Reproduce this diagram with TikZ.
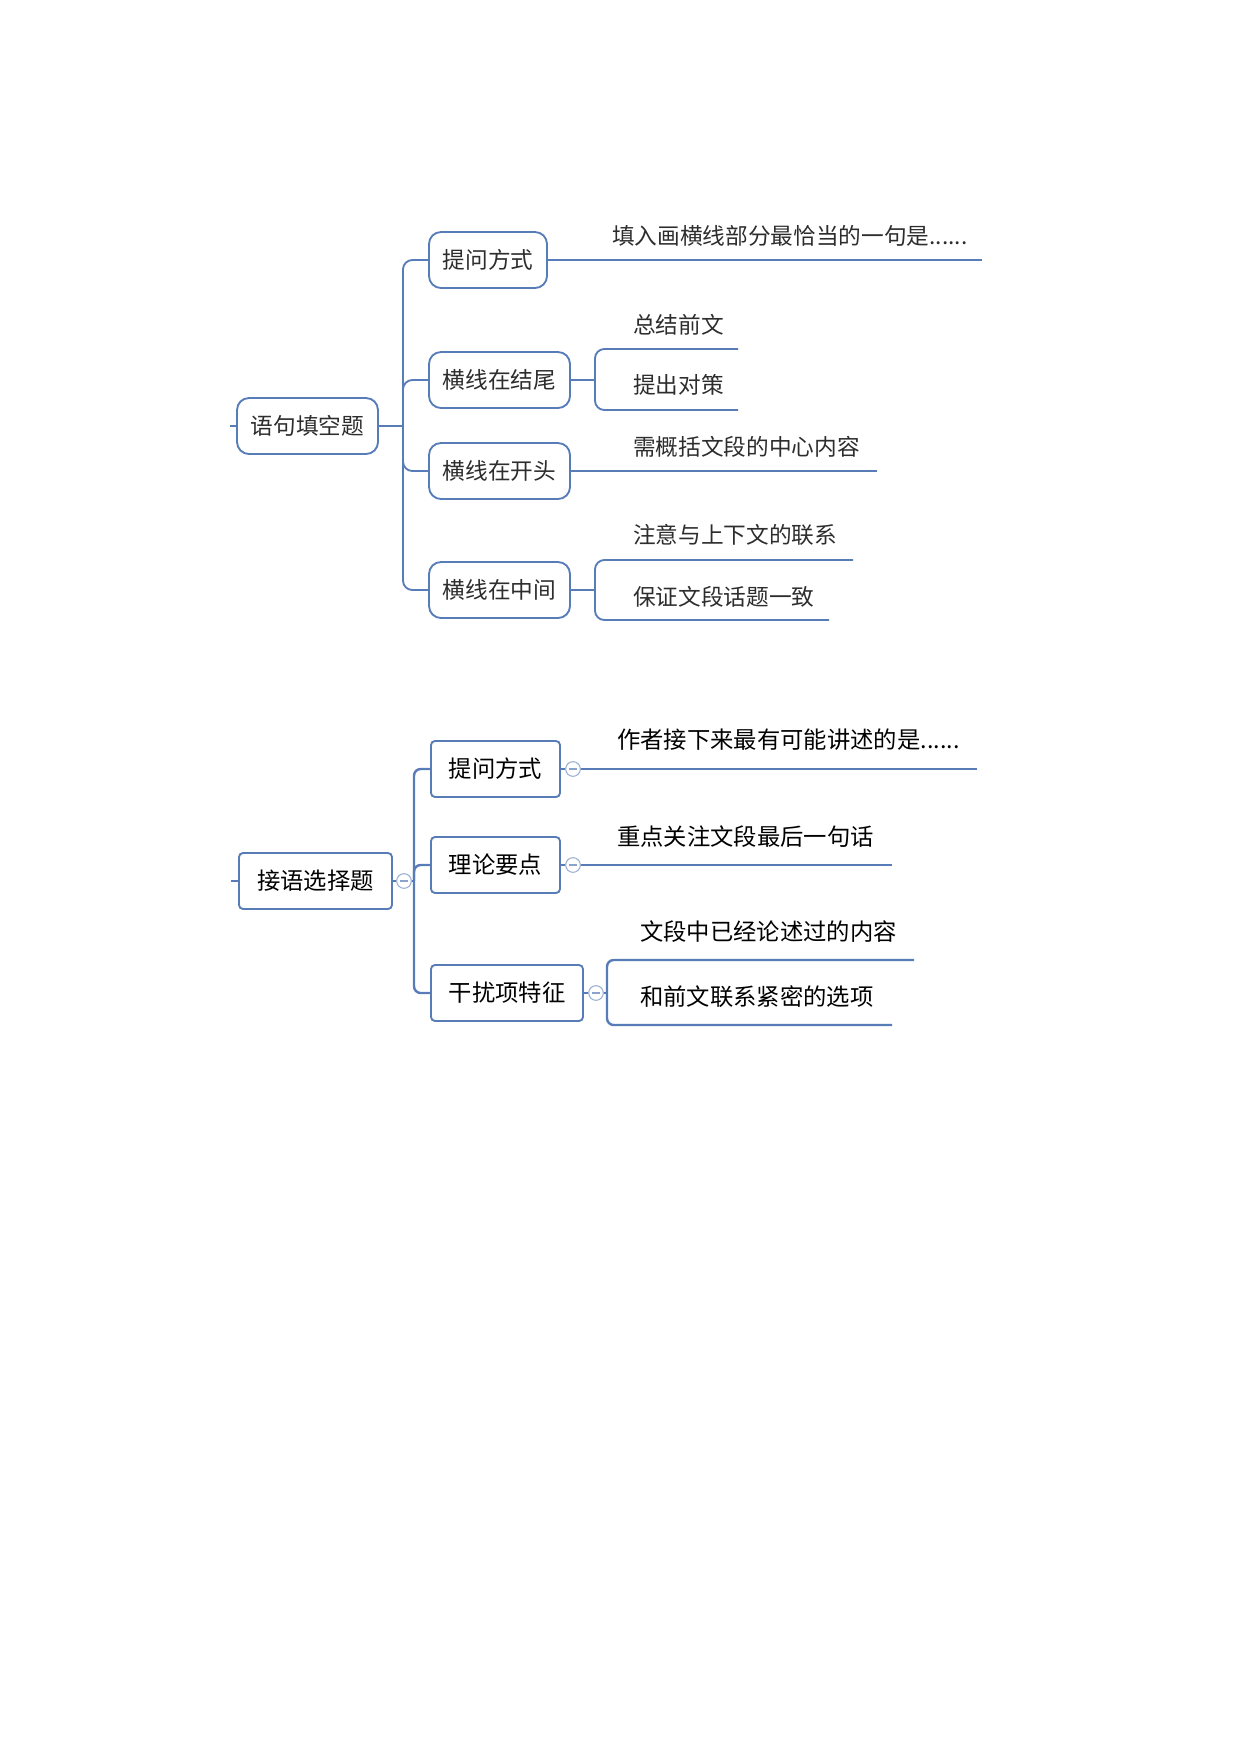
\documentclass[tikz,border=0pt]{standalone}
\usepackage{fontspec}
\setmainfont{Noto Sans CJK SC}
\usepackage{tikz}
\usepackage{color}

\definecolor{lineblue}{RGB}{88,124,184}
\definecolor{greytext}{RGB}{45,45,45}

\begin{document}
\begin{tikzpicture}[x=0.75pt,y=0.75pt,yscale=-1,xscale=1,
  box/.style={draw=lineblue,line width=1.4pt,fill=white,align=center,inner sep=0pt},
  topbox/.style={box,rounded corners=9pt,minimum height=42pt,text=greytext,font=\fontsize{17}{20}\selectfont},
  lowbox/.style={box,rounded corners=3pt,minimum height=42pt,text=black,font=\fontsize{17.5}{21}\selectfont},
  toptext/.style={anchor=west,inner sep=0pt,text=greytext,font=\fontsize{17}{20}\selectfont},
  lowtext/.style={anchor=west,inner sep=0pt,text=black,font=\fontsize{17.5}{21}\selectfont},
  link/.style={draw=lineblue,line width=1.4pt,rounded corners=7pt},
  linkb/.style={draw=lineblue,line width=1.8pt,rounded corners=5pt},
  fold/.style={circle,draw=lineblue!60,fill=white,line width=0.8pt,minimum size=11pt,inner sep=0pt,
    path picture={\draw[lineblue!70,line width=0.8pt] ([xshift=-3pt]path picture bounding box.center) -- ([xshift=3pt]path picture bounding box.center);}}]
\useasboundingbox (0,0) rectangle (1240,1754);

%Shape: Rectangle [id:root1]
\draw (307.5,426) node (root1) [topbox,minimum width=105.75pt] {语句填空题};
%Shape: Rectangle [id:ask1]
\draw (488,260) node (ask1) [topbox,minimum width=88.5pt] {提问方式};
%Shape: Rectangle [id:end1]
\draw (499.5,380) node (end1) [topbox,minimum width=105.75pt] {横线在结尾};
%Shape: Rectangle [id:start1]
\draw (499.5,471) node (start1) [topbox,minimum width=105.75pt] {横线在开头};
%Shape: Rectangle [id:mid1]
\draw (499.5,590) node (mid1) [topbox,minimum width=105.75pt] {横线在中间};

\coordinate (in1) at (230,426);
\coordinate (sp1) at (403,426);
\coordinate (ask1e) at (982,260);
\coordinate (end1j) at (595,380);
\coordinate (end1a) at (738,349);
\coordinate (end1b) at (738,410);
\coordinate (start1e) at (877,471);
\coordinate (mid1j) at (595,590);
\coordinate (mid1a) at (853,560);
\coordinate (mid1b) at (829,620);

%Straight Lines [id:top tree]
\draw [link] (in1) -- (root1.west);
\draw [link] (root1.east) -- (sp1);
\draw [link] (sp1) |- (ask1.west);
\draw [link] (sp1) |- (end1.west);
\draw [link] (sp1) |- (start1.west);
\draw [link] (sp1) |- (mid1.west);
\draw [link] (ask1.east) -- (ask1e);
\draw [link] (end1.east) -- (end1j);
\draw [link] (end1a) -| (end1j) |- (end1b);
\draw [link] (start1.east) -- (start1e);
\draw [link] (mid1.east) -- (mid1j);
\draw [link] (mid1a) -| (mid1j) |- (mid1b);

% Text Node
\draw (612,236) node (ask1t) [toptext] {填入画横线部分最恰当的一句是......};
% Text Node
\draw (633,325) node (end1t) [toptext] {总结前文};
% Text Node
\draw (633,385) node (end1u) [toptext] {提出对策};
% Text Node
\draw (633,447) node (start1t) [toptext] {需概括文段的中心内容};
% Text Node
\draw (633,535) node (mid1t) [toptext] {注意与上下文的联系};
% Text Node
\draw (633,597) node (mid1u) [toptext] {保证文段话题一致};

%Shape: Rectangle [id:root2]
\draw (315.5,881) node (root2) [lowbox,minimum width=114.75pt] {接语选择题};
%Shape: Rectangle [id:ask2]
\draw (495.5,769) node (ask2) [lowbox,minimum width=96.75pt] {提问方式};
%Shape: Rectangle [id:point2]
\draw (495.5,865) node (point2) [lowbox,minimum width=96.75pt] {理论要点};
%Shape: Rectangle [id:trap2]
\draw (507,993) node (trap2) [lowbox,minimum width=114pt] {干扰项特征};

%Shape: Circle [id:fold buttons]
\draw (404,881) node (fold0) [fold] {};
\draw (573,769) node (fold1) [fold] {};
\draw (573,865) node (fold2) [fold] {};
\draw (596,993) node (fold3) [fold] {};

\coordinate (in2) at (231,881);
\coordinate (sp2) at (414,881);
\coordinate (ask2e) at (977,769);
\coordinate (point2e) at (892,865);
\coordinate (trap2j) at (607,993);
\coordinate (trap2a) at (914,960);
\coordinate (trap2b) at (892,1025);

%Straight Lines [id:lower tree]
\draw [linkb] (in2) -- (root2.west);
\draw [linkb] (root2.east) -- (fold0);
\draw [linkb] (fold0) -- (sp2);
\draw [linkb] (sp2) |- (ask2.west);
\draw [linkb] (sp2) |- (point2.west);
\draw [linkb] (sp2) |- (trap2.west);
\draw [linkb] (ask2.east) -- (fold1) -- (ask2e);
\draw [linkb] (point2.east) -- (fold2) -- (point2e);
\draw [linkb] (trap2.east) -- (fold3);
\draw [linkb] (fold3) -- (trap2j);
\draw [linkb] (trap2a) -| (trap2j) |- (trap2b);

% Text Node
\draw (617,740) node (ask2t) [lowtext] {作者接下来最有可能讲述的是......};
% Text Node
\draw (617,837) node (point2t) [lowtext] {重点关注文段最后一句话};
% Text Node
\draw (640,932) node (trap2t) [lowtext] {文段中已经论述过的内容};
% Text Node
\draw (640,997) node (trap2u) [lowtext] {和前文联系紧密的选项};

\end{tikzpicture}
\end{document}
